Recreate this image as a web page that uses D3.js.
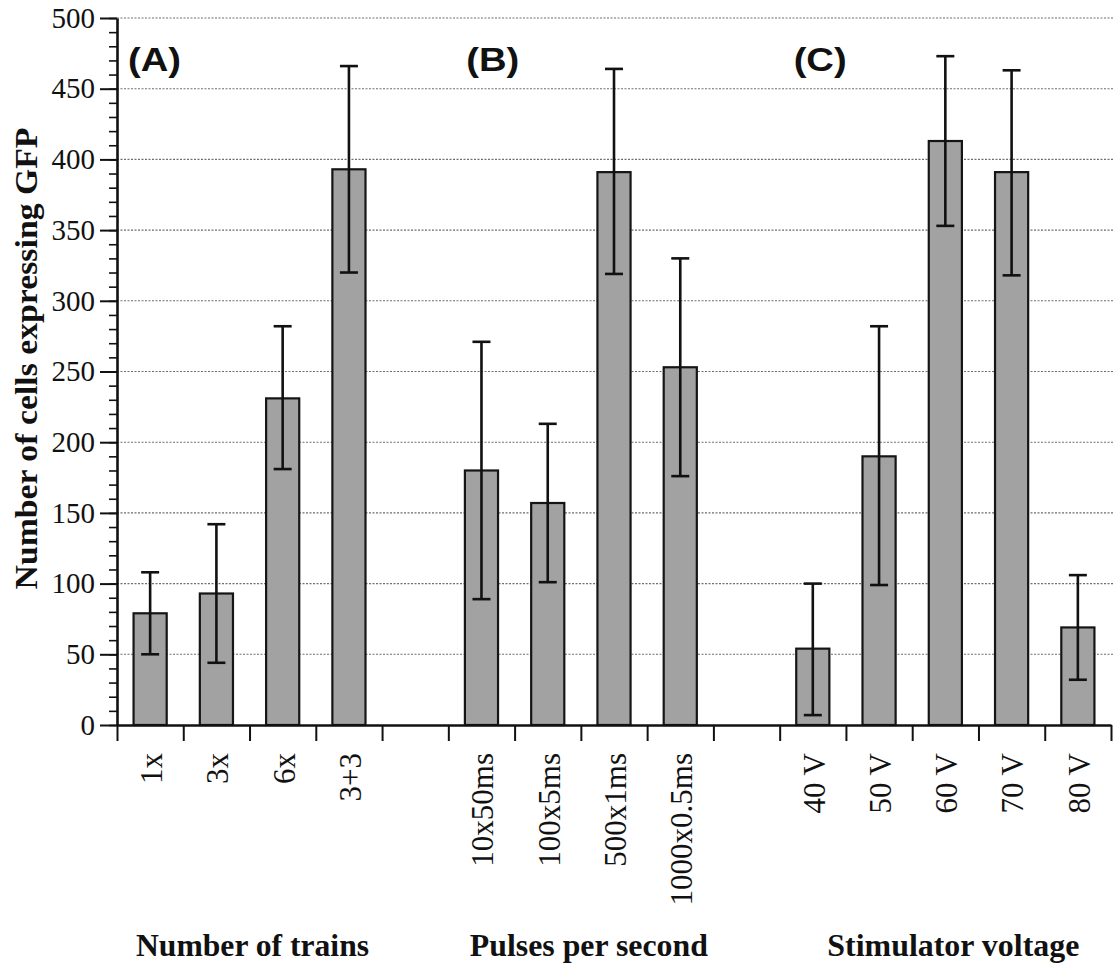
<!DOCTYPE html>
<html>
<head>
<meta charset="utf-8">
<script src="https://cdn.jsdelivr.net/npm/d3@7"></script>
<style>
  html, body { margin: 0; padding: 0; background: #fff; }
  svg { display: block; }
</style>
</head>
<body>
<svg id="chart" width="1113" height="968"></svg>
<script>
// Conditions, in plotting order; empty strings are spacer slots between groups
const categories = ["1x", "3x", "6x", "3+3", "",
  "10x50ms", "100x5ms", "500x1ms", "1000x0.5ms", "",
  "40 V", "50 V", "60 V", "70 V", "80 V"];

// Mean number of GFP-expressing cells and error-bar limits
const means   = [79, 93, 231, 393, null, 180, 157, 391, 253, null, 54, 190, 413, 391, 69];
const errLow  = [50, 44, 181, 320, null,  89, 101, 319, 176, null,  7,  99, 353, 318, 32];
const errHigh = [108, 142, 282, 466, null, 271, 213, 464, 330, null, 100, 282, 473, 463, 106];

// Experiment groups: panel letter, axis caption, first and last slot index
const groupLetters  = ["(A)", "(B)", "(C)"];
const groupCaptions = ["Number of trains", "Pulses per second", "Stimulator voltage"];
const groupFirst    = [0, 5, 10];
const groupLast     = [3, 8, 14];

const yTicks = [0, 50, 100, 150, 200, 250, 300, 350, 400, 450, 500];
const yLabel = "Number of cells expressing GFP";

const svg = d3.select("#chart");
const plotLeft = 117, plotRight = 1111, plotTop = 18, plotBottom = 725;

const idx = categories.map((d, i) => i);
const x = d3.scaleBand().domain(idx).range([plotLeft, plotRight])
  .paddingInner(0.5).paddingOuter(0.25);
const xEdge = d3.scaleLinear().domain([0, categories.length]).range([plotLeft, plotRight]);
const y = d3.scaleLinear().domain([0, 500]).range([plotBottom, plotTop]);

// dotted horizontal grid
svg.append("g")
  .selectAll("line")
  .data(yTicks.filter(v => v > 0))
  .join("line")
  .attr("x1", plotLeft).attr("x2", 1113)
  .attr("y1", d => y(d)).attr("y2", d => y(d))
  .attr("stroke", "#6f6f6f")
  .attr("stroke-width", 1.1)
  .attr("stroke-dasharray", "2,1.5");

// bars
const bars = idx.filter(i => means[i] != null);
svg.append("g")
  .selectAll("rect")
  .data(bars)
  .join("rect")
  .attr("x", i => x(i))
  .attr("width", x.bandwidth())
  .attr("y", i => y(means[i]))
  .attr("height", i => y(0) - y(means[i]))
  .attr("fill", "#a2a2a2")
  .attr("stroke", "#151515")
  .attr("stroke-width", 2.2);

// error bars
const cap = 9;
const eb = svg.append("g").attr("stroke", "#111").attr("stroke-width", 2.6);
bars.forEach(i => {
  const cx = x(i) + x.bandwidth() / 2;
  eb.append("line").attr("x1", cx).attr("x2", cx)
    .attr("y1", y(errLow[i])).attr("y2", y(errHigh[i]));
  eb.append("line").attr("x1", cx - cap).attr("x2", cx + cap)
    .attr("y1", y(errHigh[i])).attr("y2", y(errHigh[i]));
  eb.append("line").attr("x1", cx - cap).attr("x2", cx + cap)
    .attr("y1", y(errLow[i])).attr("y2", y(errLow[i]));
});

// y axis: minor ticks every 10, major every 50
svg.append("g")
  .attr("transform", `translate(${plotLeft},0)`)
  .call(d3.axisLeft(y).tickValues(d3.range(0, 501, 10)).tickSize(8).tickFormat(""))
  .call(g => g.select(".domain").remove())
  .call(g => g.selectAll("line").attr("stroke", "#111").attr("stroke-width", 1.6));

svg.append("g")
  .attr("transform", `translate(${plotLeft},0)`)
  .call(d3.axisLeft(y).tickValues(yTicks).tickSize(17).tickSizeOuter(0).tickPadding(5))
  .call(g => g.select(".domain").attr("stroke", "#111").attr("stroke-width", 2.6))
  .call(g => g.selectAll(".tick line").attr("stroke", "#111").attr("stroke-width", 2))
  .call(g => g.selectAll("text")
    .attr("font-family", "'Liberation Serif', 'Times New Roman', serif")
    .attr("font-size", 29)
    .attr("fill", "#111"));

// x axis line with ticks on slot boundaries
svg.append("g")
  .attr("transform", `translate(0,${plotBottom})`)
  .call(d3.axisBottom(xEdge).tickValues(d3.range(0, categories.length + 1))
    .tickSize(16).tickSizeOuter(0).tickFormat(""))
  .call(g => g.select(".domain").attr("stroke", "#111").attr("stroke-width", 2.6))
  .call(g => g.selectAll(".tick line").attr("stroke", "#111").attr("stroke-width", 2));

// rotated category labels
svg.append("g")
  .selectAll("text")
  .data(idx.filter(i => categories[i] !== ""))
  .join("text")
  .attr("transform", i => `translate(${x(i) + x.bandwidth() / 2 + 1},753) rotate(-90)`)
  .attr("text-anchor", "end")
  .attr("dy", "0.35em")
  .attr("font-family", "'Liberation Serif', 'Times New Roman', serif")
  .attr("font-size", 31)
  .attr("fill", "#111")
  .text(i => categories[i]);

// panel letters
svg.append("g")
  .selectAll("text")
  .data(groupLetters)
  .join("text")
  .attr("x", (d, k) => xEdge(groupFirst[k]) + [11, 18, 14][k])
  .attr("y", 71)
  .attr("font-family", "'Liberation Sans', Arial, sans-serif")
  .attr("font-weight", "bold")
  .attr("font-size", 34)
  .attr("textLength", 53)
  .attr("lengthAdjust", "spacingAndGlyphs")
  .attr("fill", "#111")
  .text(d => d);

// group captions under the axis
const captionWidths = [233, 238, 252];
svg.append("g")
  .selectAll("text")
  .data(groupCaptions)
  .join("text")
  .attr("x", (d, k) => (xEdge(groupFirst[k]) + xEdge(groupLast[k] + 1)) / 2 + [3, 8, 8][k])
  .attr("y", 956)
  .attr("text-anchor", "middle")
  .attr("font-family", "'Liberation Serif', 'Times New Roman', serif")
  .attr("font-weight", "bold")
  .attr("font-size", 32)
  .attr("textLength", (d, k) => captionWidths[k])
  .attr("lengthAdjust", "spacingAndGlyphs")
  .attr("fill", "#111")
  .text(d => d);

// y axis title
svg.append("text")
  .attr("transform", `translate(37,${(127 + 590) / 2}) rotate(-90)`)
  .attr("text-anchor", "middle")
  .attr("font-family", "'Liberation Serif', 'Times New Roman', serif")
  .attr("font-weight", "bold")
  .attr("font-size", 31)
  .attr("textLength", 462)
  .attr("lengthAdjust", "spacingAndGlyphs")
  .attr("fill", "#111")
  .text(yLabel);
</script>
</body>
</html>
